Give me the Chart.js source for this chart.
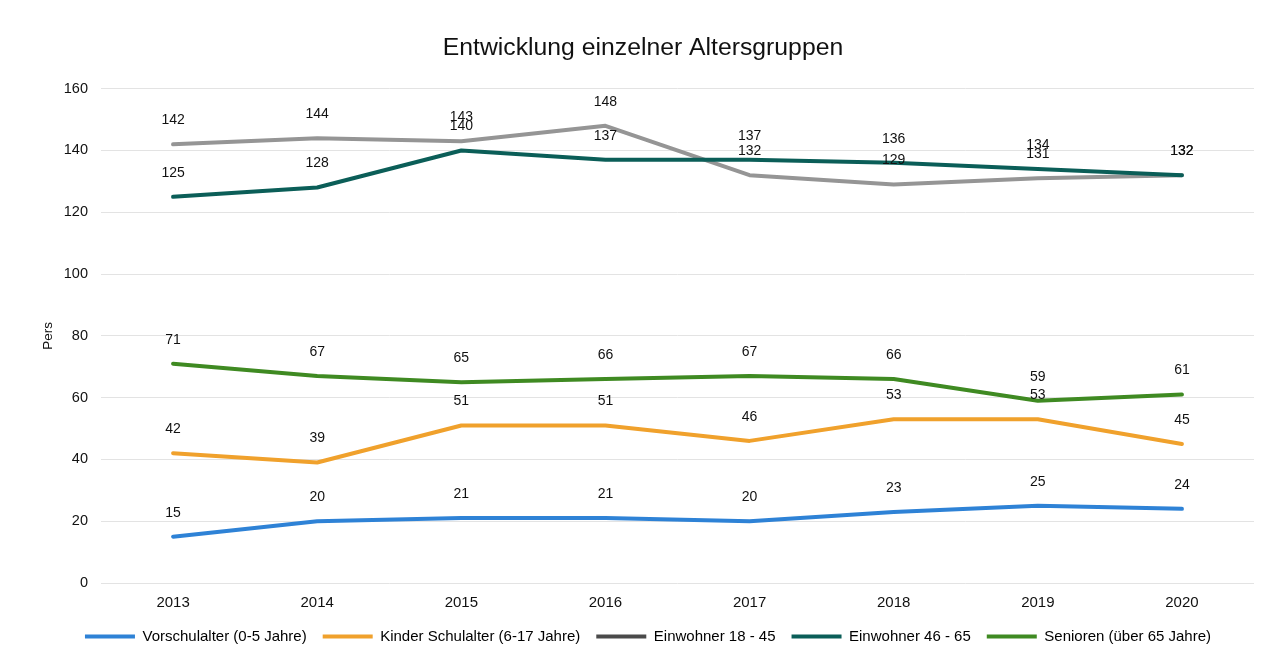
<!DOCTYPE html>
<html lang="de">
<head>
<meta charset="utf-8">
<title>Entwicklung einzelner Altersgruppen</title>
<script src="https://cdn.jsdelivr.net/npm/chart.js@4/dist/chart.umd.min.js"></script>
<style>
  html, body { margin: 0; padding: 0; background: #ffffff; }
  #wrap { width: 1282px; height: 667px; position: relative; }
</style>
</head>
<body>
<div id="wrap"><canvas id="chart"></canvas></div>
<script>
// Jahre und Personenzahlen je Altersgruppe
const years = ['2013', '2014', '2015', '2016', '2017', '2018', '2019', '2020'];
const vorschulalter = [15, 20, 21, 21, 20, 23, 25, 24];
const kinderSchulalter = [42, 39, 51, 51, 46, 53, 53, 45];
const einwohner18bis45 = [142, 144, 143, 148, 132, 129, 131, 132];
const einwohner46bis65 = [125, 128, 140, 137, 137, 136, 134, 132];
const senioren = [71, 67, 65, 66, 67, 66, 59, 61];
const yTicks = [0, 20, 40, 60, 80, 100, 120, 140, 160];

const FONT = '"Liberation Sans", Arial, Helvetica, sans-serif';
const TEXT = '#111111';

// Zahlenwerte über jedem Punkt
const valueLabels = {
  id: 'valueLabels',
  afterDatasetsDraw(chart) {
    const ctx = chart.ctx;
    ctx.save();
    ctx.font = '14px ' + FONT;
    ctx.fillStyle = TEXT;
    ctx.textAlign = 'center';
    ctx.textBaseline = 'middle';
    chart.data.datasets.forEach((ds, i) => {
      const meta = chart.getDatasetMeta(i);
      meta.data.forEach((pt, j) => {
        ctx.fillText(String(ds.data[j]), pt.x, pt.y - 24);
      });
    });
    ctx.restore();
  }
};

// Titel und Legende etwas nach rechts rücken (Mitte der Gesamtbreite)
const centerBlocks = {
  id: 'centerBlocks',
  afterLayout(chart) {
    if (chart.titleBlock) { chart.titleBlock.left += 16; chart.titleBlock.right += 16; }
    if (chart.legend) { chart.legend.left += 21; chart.legend.right += 21; }
  }
};

function series(label, data, color, order) {
  return {
    label, data, order,
    borderColor: color,
    backgroundColor: color,
    borderWidth: 4,
    tension: 0,
    pointRadius: 0,
    pointHoverRadius: 0,
    fill: false,
    borderCapStyle: 'round',
    borderJoinStyle: 'round'
  };
}

new Chart(document.getElementById('chart'), {
  type: 'line',
  data: {
    labels: years,
    datasets: [
      series('Vorschulalter (0-5 Jahre)', vorschulalter, '#2e82d6', 5),
      series('Kinder Schulalter (6-17 Jahre)', kinderSchulalter, '#f0a12c', 4),
      series('Einwohner 18 - 45', einwohner18bis45, '#959595', 3),
      series('Einwohner 46 - 65', einwohner46bis65, '#0b5e58', 1),
      series('Senioren (über 65 Jahre)', senioren, '#3f8a22', 2)
    ]
  },
  options: {
    responsive: true,
    maintainAspectRatio: false,
    animation: false,
    events: [],
    layout: { padding: { left: 0, right: 28, top: 0, bottom: 13 } },
    plugins: {
      title: {
        display: true,
        text: 'Entwicklung einzelner Altersgruppen',
        color: TEXT,
        font: { family: FONT, size: 24.75, weight: 'normal' },
        padding: { top: 33, bottom: 26 }
      },
      legend: {
        display: true,
        position: 'bottom',
        labels: {
          color: TEXT,
          font: { family: FONT, size: 15 },
          boxWidth: 50,
          boxHeight: 4,
          padding: 16,
          generateLabels(chart) {
            return chart.data.datasets.map((ds, i) => ({
              text: ds.label,
              fillStyle: i === 2 ? '#4a4a4a' : ds.borderColor,
              strokeStyle: i === 2 ? '#4a4a4a' : ds.borderColor,
              lineWidth: 0,
              hidden: false,
              datasetIndex: i
            }));
          }
        }
      },
      tooltip: { enabled: false }
    },
    scales: {
      x: {
        offset: true,
        afterFit(scale) { scale.height = 30; },
        grid: { display: false, drawTicks: false },
        border: { display: false },
        ticks: {
          color: TEXT,
          font: { family: FONT, size: 15 },
          padding: 11
        }
      },
      y: {
        min: 0,
        max: 160,
        afterBuildTicks(scale) {
          scale.ticks = yTicks.map(v => ({ value: v }));
        },
        afterFit(scale) { scale.width = 101; },
        grid: { color: '#e3e3e3', lineWidth: 1, drawTicks: false },
        border: { display: false },
        ticks: {
          color: TEXT,
          font: { family: FONT, size: 14.5 },
          padding: 13
        },
        title: {
          display: true,
          text: 'Pers',
          color: TEXT,
          font: { family: FONT, size: 13.5 },
          padding: { top: 40, bottom: 0 }
        }
      }
    }
  },
  plugins: [valueLabels, centerBlocks]
});
</script>
</body>
</html>
